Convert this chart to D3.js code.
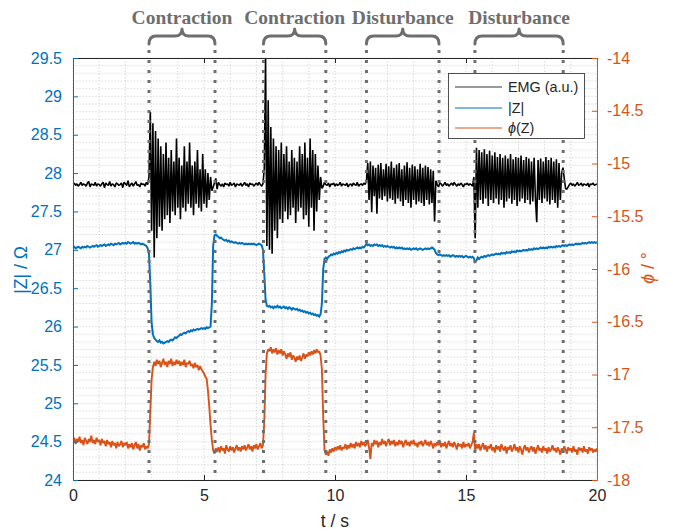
<!DOCTYPE html>
<html><head><meta charset="utf-8">
<script src="https://cdn.jsdelivr.net/npm/d3@7"></script>
<style>body{margin:0;background:#fff;} svg{display:block;}</style>
</head><body><svg id="c" width="673" height="532"></svg>
<script>
// ---------------- DATA ----------------
const tStep = 0.05;                       // sampling interval of all series (s)
const xTicks = [0, 5, 10, 15, 20];
const leftTicks = [24, 24.5, 25, 25.5, 26, 26.5, 27, 27.5, 28, 28.5, 29, 29.5];
const rightTicks = [-18, -17.5, -17, -16.5, -16, -15.5, -15, -14.5, -14];
const eventStart = [2.9, 7.27, 11.2, 15.34];
const eventEnd   = [5.42, 9.65, 13.97, 18.71];
const eventLabels = ["Contraction", "Contraction", "Disturbance", "Disturbance"];
const seriesNames = ["EMG (a.u.)", "|Z|", "ϕ(Z)"];
const emgBaseline = 27.85;   // level at which EMG (a.u.) is drawn on the |Z| axis
const emgUnit = 0.01;        // one EMG a.u. step in |Z| axis units

// EMG (a.u., deviation from baseline)
const emg = [
0,2,-1,1,-2,0,3,-1,1,0,-2,2,4,-3,1,0,-1,3,-2,1,
0,-2,1,3,-4,2,0,-1,4,-2,1,0,-3,2,1,-1,0,2,-4,3,
1,-1,5,-3,0,2,-2,1,4,-1,0,-3,2,0,1,-2,3,0,
10,95,-60,80,-95,70,-70,60,-55,50,
-60,40,-45,55,-40,35,-50,45,-35,30,
-40,60,-30,35,-45,25,-30,50,-35,30,
-25,55,-30,25,-40,30,-25,45,-30,20,
-35,40,-25,20,-30,15,-20,10,-8,
-3,2,8,-6,3,0,-2,1,-3,2,0,1,-2,3,-1,0,2,-3,1,0,
-1,2,-2,0,3,-1,1,-3,2,0,1,-2,0,2,-1,3,0,-2,1,
20,165,-80,110,-85,75,-90,60,-60,50,
-70,45,-45,55,-50,40,-35,50,-45,30,
-40,45,-30,35,-50,30,-35,50,-30,40,
-45,55,-40,35,-55,60,-30,45,-60,40,
-35,25,-20,10,-5,
-2,3,0,-1,2,-3,1,0,2,-2,1,-1,0,3,-2,1,0,-1,2,-3,0,1,-2,2,0,-1,3,-2,0,1,-1,2,0,
5,28,-20,30,-36,25,-15,22,-38,26,
-18,28,-20,20,-15,27,-22,24,-18,30,
-20,22,-25,26,-18,28,-22,20,-28,25,
-20,29,-24,22,-30,26,-20,24,-26,20,
-22,27,-24,22,-28,25,-20,23,-26,20,
-24,18,-48,5,
0,-3,2,1,-2,0,3,-1,1,-2,0,2,-1,3,0,-2,1,-1,2,0,-3,1,0,2,-1,1,0,-2,
10,-70,48,-30,45,-20,42,-25,46,-18,
40,-28,44,-20,38,-24,42,-18,36,-26,
40,-20,35,-30,38,-22,34,-18,40,-25,
33,-20,36,-28,35,-22,38,-18,32,-24,
36,-20,34,-26,30,-22,35,-18,-49,32,
-20,34,-24,30,-18,36,-22,32,-26,35,
-20,30,-24,33,-30,28,-20,
15,22,8,-5,-6,-3,0,2,-1,1,-2,0,3,-1,0,2,-2,1,0,-1,2,-3,1,0,2,-1,0,1
];

// |Z| (Ohm)
const zMag = [
27.03,27.04,27.02,27.03,27.04,27.03,27.02,27.04,27.03,27.04,27.03,27.05,27.04,27.03,27.04,27.05,27.04,27.05,27.06,27.04,
27.05,27.06,27.05,27.06,27.07,27.05,27.06,27.07,27.06,27.08,27.07,27.06,27.08,27.07,27.08,27.09,27.07,27.08,27.09,27.08,
27.09,27.08,27.1,27.09,27.08,27.09,27.1,27.08,27.09,27.08,27.09,27.08,27.07,27.08,27.07,27.06,27.05,27.02,
26.95,26.55,26.05,25.9,25.85,25.83,25.81,25.8,25.82,25.79,
25.8,25.78,25.79,25.8,25.81,25.8,25.82,25.83,25.82,25.84,
25.86,25.85,25.87,25.88,25.9,25.89,25.91,25.92,25.91,25.93,
25.94,25.93,25.95,25.94,25.96,25.95,25.96,25.97,25.96,25.97,
25.98,25.97,25.98,25.97,25.99,25.98,25.99,26.0,26.3,27.05,
27.19,27.2,27.18,27.17,27.15,27.16,27.14,27.13,27.12,27.13,
27.11,27.12,27.1,27.11,27.1,27.09,27.1,27.09,27.08,27.09,
27.08,27.09,27.08,27.07,27.08,27.07,27.08,27.07,27.08,27.07,
27.08,27.07,27.06,27.07,27.08,27.07,27.06,27.0,26.7,26.35,
26.27,26.26,26.27,26.25,26.26,26.24,26.26,26.25,26.27,26.25,
26.26,26.24,26.25,26.26,26.24,26.25,26.23,26.25,26.24,26.22,
26.24,26.23,26.22,26.23,26.21,26.22,26.2,26.21,26.19,26.2,
26.18,26.19,26.17,26.18,26.16,26.17,26.15,26.16,26.14,26.15,
26.13,26.16,26.3,26.75,26.88,26.9,26.88,26.91,26.92,26.94,
26.93,26.95,26.94,26.96,26.95,26.97,26.96,26.98,26.97,26.99,
26.98,27.0,26.99,27.0,27.01,27.0,27.02,27.01,27.02,27.03,
27.02,27.03,27.02,27.04,27.03,27.05,27.08,27.06,27.07,27.05,
27.06,27.05,27.07,27.06,27.07,27.05,27.06,27.05,27.06,27.04,
27.05,27.04,27.05,27.04,27.03,27.04,27.03,27.04,27.02,27.03,
27.02,27.03,27.02,27.03,27.01,27.02,27.01,27.02,27.01,27.02,
27.0,27.01,27.02,27.01,27.02,27.0,27.01,27.02,27.01,27.0,
27.01,27.02,27.01,27.02,27.01,27.02,27.03,27.02,27.0,26.96,
26.94,26.93,26.94,26.93,26.92,26.93,26.92,26.93,26.92,26.93,
26.91,26.92,26.93,26.92,26.91,26.92,26.91,26.92,26.91,26.92,
26.9,26.91,26.92,26.91,26.9,26.91,26.9,26.91,26.89,26.84,
26.86,26.9,26.88,26.9,26.91,26.9,26.92,26.91,26.92,26.93,
26.92,26.93,26.94,26.93,26.94,26.95,26.94,26.95,26.94,26.96,
26.95,26.96,26.95,26.97,26.96,26.97,26.96,26.98,26.97,26.98,
26.97,26.99,26.98,26.99,26.98,26.99,27.0,26.99,27.0,26.99,
27.01,27.0,27.01,27.0,27.02,27.01,27.02,27.01,27.02,27.03,
27.02,27.03,27.02,27.03,27.02,27.04,27.03,27.04,27.03,27.04,
27.03,27.05,27.04,27.05,27.04,27.05,27.06,27.05,27.06,27.05,
27.06,27.07,27.06,27.07,27.06,27.07,27.08,27.07,27.08,27.07,
27.08,27.09,27.08,27.09,27.08,27.09,27.1,27.09,27.1,27.09,
27.1,27.09,27.1
];

// phase of Z (degrees)
const zPhase = [
-17.63,-17.6,-17.66,-17.61,-17.64,-17.59,-17.65,-17.62,-17.67,-17.6,-17.63,-17.66,-17.61,-17.64,-17.58,-17.65,-17.62,-17.66,-17.6,-17.64,
-17.62,-17.67,-17.61,-17.65,-17.63,-17.68,-17.62,-17.66,-17.64,-17.69,-17.63,-17.67,-17.65,-17.7,-17.64,-17.68,-17.66,-17.63,-17.69,-17.65,
-17.67,-17.64,-17.7,-17.66,-17.69,-17.65,-17.71,-17.67,-17.64,-17.7,-17.66,-17.72,-17.67,-17.69,-17.65,-17.71,-17.68,-17.7,
-17.66,-17.35,-17.05,
-16.93,-16.88,-16.92,-16.86,-16.9,-16.87,-16.93,-16.89,-16.85,-16.91,
-16.88,-16.93,-16.87,-16.9,-16.85,-16.92,-16.88,-16.91,-16.86,-16.9,
-16.87,-16.92,-16.88,-16.91,-16.86,-16.93,-16.89,-16.9,-16.87,-16.92,
-16.9,-16.94,-16.89,-16.93,-16.91,-16.96,-16.92,-16.95,-16.97,-16.99,
-17.02,-17.04,-17.15,-17.3,-17.48,-17.62,-17.72,-17.75,-17.7,-17.73,
-17.69,-17.74,-17.68,-17.72,-17.7,-17.75,-17.67,-17.71,-17.73,-17.68,
-17.72,-17.69,-17.74,-17.7,-17.67,-17.72,-17.69,-17.73,-17.68,-17.71,
-17.67,-17.72,-17.69,-17.66,-17.71,-17.68,-17.73,-17.67,-17.7,-17.66,
-17.71,-17.68,-17.65,-17.7,-17.67,
-17.45,-17.0,-16.8,-16.76,
-16.78,-16.74,-16.8,-16.76,-16.79,-16.75,-16.81,-16.77,-16.8,-16.76,
-16.82,-16.78,-16.81,-16.85,-16.8,-16.83,-16.79,-16.86,-16.82,-16.84,
-16.88,-16.83,-16.86,-16.82,-16.87,-16.84,-16.8,-16.85,-16.81,-16.83,
-16.79,-16.82,-16.78,-16.81,-16.77,-16.8,-16.76,-16.79,-16.78,-16.82,
-16.95,-17.4,-17.72,-17.76,-17.73,-17.77,-17.71,
-17.74,-17.7,-17.73,-17.69,-17.72,-17.68,-17.71,-17.67,-17.72,-17.69,
-17.7,-17.66,-17.71,-17.67,-17.7,-17.65,-17.69,-17.66,-17.7,-17.64,
-17.68,-17.65,-17.69,-17.63,-17.67,-17.64,-17.68,-17.66,-17.62,-17.69,
-17.8,-17.65,-17.68,-17.62,-17.66,-17.63,-17.69,-17.64,-17.67,-17.61,
-17.66,-17.63,-17.68,-17.64,-17.61,-17.67,-17.63,-17.66,-17.62,-17.68,
-17.64,-17.67,-17.62,-17.66,-17.63,-17.69,-17.65,-17.62,-17.67,-17.64,
-17.68,-17.63,-17.66,-17.62,-17.67,-17.65,-17.69,-17.64,-17.66,-17.63,
-17.68,-17.65,-17.62,-17.67,-17.64,-17.68,-17.63,-17.66,-17.7,-17.65,
-17.68,-17.64,-17.67,-17.63,-17.69,-17.65,-17.68,-17.64,-17.7,-17.66,
-17.63,-17.68,-17.65,-17.69,-17.64,-17.67,-17.71,-17.65,-17.68,-17.66,
-17.7,-17.64,-17.69,-17.66,-17.68,-17.65,-17.7,-17.67,-17.64,
-17.55,-17.72,-17.66,
-17.7,-17.66,-17.72,-17.68,-17.65,-17.71,-17.67,-17.73,-17.68,-17.7,
-17.66,-17.72,-17.69,-17.74,-17.67,-17.71,-17.68,-17.73,-17.66,-17.7,
-17.72,-17.68,-17.75,-17.69,-17.71,-17.67,-17.73,-17.7,-17.66,-17.72,
-17.69,-17.74,-17.68,-17.71,-17.76,-17.7,-17.67,-17.72,-17.69,-17.74,
-17.7,-17.68,-17.73,-17.69,-17.75,-17.71,-17.67,-17.72,-17.7,-17.74,
-17.68,-17.72,-17.7,-17.75,-17.69,-17.73,-17.71,-17.67,-17.72,-17.7,
-17.74,-17.69,-17.72,-17.76,-17.7,-17.73,-17.68,-17.71,-17.75,-17.69,
-17.72,-17.7,-17.74,-17.68,-17.73,-17.71,-17.76,-17.69,-17.72,-17.7,
-17.74,-17.68,-17.73,-17.71,-17.75,-17.69,-17.72,-17.7,-17.74,-17.71,-17.73,-17.7
];

// ---------------- CHART ----------------
const blue = "#0072BD", orange = "#D95319", axisGrey = "#262626", annoGrey = "#6e6e6e";
const FONT = "'Liberation Sans', Arial, Helvetica, sans-serif";
const svg = d3.select("#c");
const M = {l: 73, r: 597, t: 58, b: 480};
const x = d3.scaleLinear().domain([0, 20]).range([M.l, M.r]);
const yL = d3.scaleLinear().domain([24, 29.5]).range([M.b, M.t]);
const yR = d3.scaleLinear().domain([-18, -14]).range([M.b, M.t]);

svg.append("rect").attr("width", 673).attr("height", 532).attr("fill", "#fff");

// grid (minor dotted)
const grid = svg.append("g").attr("stroke", "#c8c8c8").attr("stroke-width", 0.8).attr("stroke-dasharray", "1.2,2");
grid.selectAll("line.v").data(x.ticks(20)).join("line").attr("class", "v")
  .attr("x1", d => x(d)).attr("x2", d => x(d)).attr("y1", M.t).attr("y2", M.b);
grid.selectAll("line.h").data(yL.ticks(55)).join("line").attr("class", "h")
  .attr("x1", M.l).attr("x2", M.r).attr("y1", d => yL(d)).attr("y2", d => yL(d));

// clip
svg.append("clipPath").attr("id", "clip").append("rect")
  .attr("x", M.l).attr("y", M.t).attr("width", M.r - M.l).attr("height", M.b - M.t);
const plot = svg.append("g").attr("clip-path", "url(#clip)");

const tOf = (d, i) => x(i * tStep);
plot.append("path").datum(zPhase).attr("fill", "none").attr("stroke", orange).attr("stroke-width", 1.9)
  .attr("stroke-linejoin", "bevel")
  .attr("d", d3.line().x(tOf).y(d => yR(d)));
plot.append("path").datum(zMag).attr("fill", "none").attr("stroke", blue).attr("stroke-width", 2)
  .attr("d", d3.line().x(tOf).y(d => yL(d)));
plot.append("path").datum(emg).attr("fill", "none").attr("stroke", "#000").attr("stroke-width", 1.6)
  .attr("stroke-linejoin", "bevel")
  .attr("d", d3.line().x(tOf).y(d => yL(emgBaseline + d * emgUnit)));

// event dotted lines
const evTimes = eventStart.concat(eventEnd);
svg.append("g").selectAll("line").data(evTimes).join("line")
  .attr("x1", d => x(d)).attr("x2", d => x(d)).attr("y1", 50).attr("y2", M.b)
  .attr("stroke", annoGrey).attr("stroke-width", 3).attr("stroke-dasharray", "3,7");

// axes
function styleAxis(g, color, fs) {
  g.attr("font-family", FONT).attr("font-size", fs);
  g.select(".domain").attr("stroke", color).attr("stroke-width", 1);
  g.selectAll(".tick line").attr("stroke", color);
  g.selectAll(".tick text").attr("fill", color);
}
const fmt = d => String(d);
svg.append("g").attr("transform", `translate(0,${M.b})`)
  .call(d3.axisBottom(x).tickValues(xTicks).tickSize(-5).tickSizeOuter(0).tickPadding(10).tickFormat(fmt))
  .call(g => styleAxis(g, axisGrey, 16));
svg.append("g").attr("transform", `translate(0,${M.t})`)
  .call(d3.axisTop(x).tickValues(xTicks).tickSize(-5).tickSizeOuter(0).tickFormat(""))
  .call(g => styleAxis(g, axisGrey, 16));
svg.append("g").attr("transform", `translate(${M.l},0)`)
  .call(d3.axisLeft(yL).tickValues(leftTicks).tickSize(-5).tickSizeOuter(0).tickPadding(11).tickFormat(fmt))
  .call(g => styleAxis(g, blue, 16));
svg.append("g").attr("transform", `translate(${M.r},0)`)
  .call(d3.axisRight(yR).tickValues(rightTicks).tickSize(-5).tickSizeOuter(0).tickPadding(10).tickFormat(fmt))
  .call(g => styleAxis(g, orange, 16));

// axis labels
svg.append("text").attr("x", (M.l + M.r) / 2).attr("y", 527).attr("text-anchor", "middle")
  .attr("font-family", FONT).attr("font-size", 17.6).attr("fill", axisGrey).text("t / s");
svg.append("text").attr("transform", "translate(27,270) rotate(-90)").attr("text-anchor", "middle")
  .attr("font-family", FONT).attr("font-size", 17.6).attr("fill", blue).text("|Z| / Ω");
const rl = svg.append("text").attr("transform", "translate(654,268) rotate(-90)").attr("text-anchor", "middle")
  .attr("font-family", FONT).attr("font-size", 17.6).attr("fill", orange);
rl.append("tspan").attr("font-style", "italic").text("ϕ");
rl.append("tspan").text(" / °");

// braces and labels
const braces = svg.append("g");
eventStart.forEach((s, k) => {
  const x1 = x(s), x2 = x(eventEnd[k]), xm = (x1 + x2) / 2;
  const yb = 44, yh = 36, yp = 29, r = 7;
  const p = `M${x1},${yb} Q${x1},${yh} ${x1 + r},${yh} L${xm - r},${yh} Q${xm},${yh} ${xm},${yp} Q${xm},${yh} ${xm + r},${yh} L${x2 - r},${yh} Q${x2},${yh} ${x2},${yb}`;
  braces.append("path").attr("d", p).attr("fill", "none").attr("stroke", annoGrey).attr("stroke-width", 3)
    .attr("stroke-linejoin", "round").attr("stroke-linecap", "round");
  braces.append("text").attr("x", xm).attr("y", 24).attr("text-anchor", "middle")
    .attr("font-family", "'Liberation Serif', 'Times New Roman', serif").attr("font-weight", "bold")
    .attr("font-size", 19.5).attr("fill", annoGrey).text(eventLabels[k]);
});

// legend
const lg = svg.append("g").attr("font-family", FONT).attr("font-size", 14.4);
lg.append("rect").attr("x", 448.5).attr("y", 73.5).attr("width", 136).attr("height", 65)
  .attr("fill", "#fff").attr("stroke", axisGrey).attr("stroke-width", 0.8);
const legColors = ["#000", blue, orange];
const legY = [87, 108, 128];
seriesNames.forEach((n, k) => {
  lg.append("line").attr("x1", 455).attr("x2", 502).attr("y1", legY[k]).attr("y2", legY[k])
    .attr("stroke", legColors[k]).attr("stroke-width", k === 0 ? 0.8 : 1);
  const t = lg.append("text").attr("x", 508).attr("y", legY[k] + 5).attr("fill", axisGrey);
  if (n.startsWith("ϕ")) {
    t.append("tspan").attr("font-style", "italic").text("ϕ");
    t.append("tspan").text(n.slice(1));
  } else t.text(n);
});
</script>
</body></html>
